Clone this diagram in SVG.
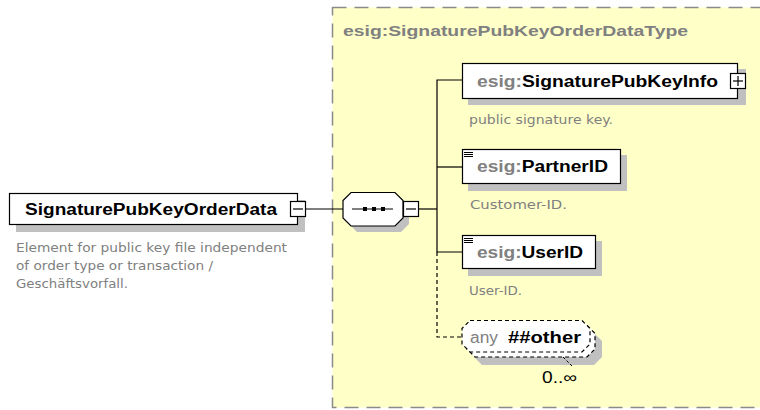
<svg xmlns="http://www.w3.org/2000/svg" width="760" height="410" viewBox="0 0 760 410">
<style>
.box{fill:#fff;stroke:#000;stroke-width:1.2}
.shadow{fill:#c0c0c0;stroke:none}
.conn{fill:none;stroke:#000;stroke-width:1.2}
.dconn{fill:none;stroke:#000;stroke-width:1.2;stroke-dasharray:4,3}
.name{font-family:"Liberation Sans",Arial,sans-serif;font-weight:bold;font-size:16px;fill:#000}
.ns{fill:#808080}
.desc{font-family:"DejaVu Sans",Verdana,sans-serif;font-size:12px;fill:#808080}
.btn{fill:#fff;stroke:#000;stroke-width:1.2}
</style>
<rect width="760" height="410" fill="#fff"/>
<g id="type-SignaturePubKeyOrderDataType">
<rect x="332.5" y="7.5" width="440" height="400" fill="#ffffc8" stroke="#8a8a8a" stroke-width="1.5" stroke-dasharray="14,8"/>
<text x="343" y="36" font-family="'Liberation Sans',Arial,sans-serif" font-weight="bold" font-size="15" fill="#808080" textLength="345" lengthAdjust="spacingAndGlyphs">esig:SignaturePubKeyOrderDataType</text>
</g>
<g id="connectors">
<line class="conn" x1="306" y1="209" x2="343" y2="209"/>
<line class="conn" x1="419" y1="209" x2="437" y2="209"/>
<polyline class="conn" points="462,80 437,80 437,252 462,252"/>
<line class="conn" x1="437" y1="167" x2="462" y2="167"/>
<polyline class="dconn" points="437,252 437,337 462,337"/>
</g>
<g id="root-SignaturePubKeyOrderData">
<rect class="shadow" x="16" y="200" width="289" height="32"/>
<rect class="box" x="9.5" y="193.5" width="288" height="31"/>
<text class="name" x="25" y="215" font-size="17" textLength="252" lengthAdjust="spacingAndGlyphs">SignaturePubKeyOrderData</text>
<rect class="btn" x="290.5" y="201.5" width="15" height="15"/>
<line class="conn" x1="293" y1="209" x2="303" y2="209"/>
<text class="desc" font-size="13"><tspan x="16" y="252" textLength="271" lengthAdjust="spacingAndGlyphs">Element for public key file independent</tspan><tspan x="16" y="270" textLength="197" lengthAdjust="spacingAndGlyphs">of order type or transaction /</tspan><tspan x="16" y="288" textLength="112" lengthAdjust="spacingAndGlyphs">Geschäftsvorfall.</tspan></text>
</g>
<g id="sequence">
<path class="shadow" d="M357,198 H401 L409,206 V224 L401,232 H357 L349,224 V206 Z"/>
<path class="box" d="M351,192.5 H395 L403,200.5 V218 L395,226 H351 L343,218 V200.5 Z"/>
<line class="conn" x1="352" y1="209" x2="393" y2="209"/>
<rect x="363" y="207" width="4" height="4" fill="#000"/>
<rect x="372" y="207" width="4" height="4" fill="#000"/>
<rect x="381" y="207" width="4" height="4" fill="#000"/>
<rect class="btn" x="403.5" y="201.5" width="15" height="15"/>
<line class="conn" x1="406" y1="209" x2="416" y2="209"/>
</g>
<g id="el-SignaturePubKeyInfo">
<rect class="shadow" x="468" y="69" width="278" height="36"/>
<rect class="box" x="462.5" y="63.5" width="275" height="35"/>
<text class="name" x="477" y="87" textLength="241" lengthAdjust="spacingAndGlyphs"><tspan class="ns">esig:</tspan>SignaturePubKeyInfo</text>
<rect class="btn" x="730.5" y="73.5" width="15" height="15"/>
<line class="conn" x1="733" y1="81" x2="743" y2="81"/>
<line class="conn" x1="738" y1="76" x2="738" y2="86"/>
<text class="desc" x="469" y="124" textLength="144" lengthAdjust="spacingAndGlyphs">public signature key.</text>
</g>
<g id="el-PartnerID">
<rect class="shadow" x="468" y="155" width="159" height="36"/>
<rect class="box" x="462.5" y="149.5" width="158" height="34"/>
<path d="M464,152.5 H473 M464,154.5 H473 M464,156.5 H473" stroke="#000" stroke-width="1"/>
<text class="name" x="477" y="172" textLength="131" lengthAdjust="spacingAndGlyphs"><tspan class="ns">esig:</tspan>PartnerID</text>
<text class="desc" x="470" y="209" textLength="97" lengthAdjust="spacingAndGlyphs">Customer-ID.</text>
</g>
<g id="el-UserID">
<rect class="shadow" x="468" y="241" width="134" height="35"/>
<rect class="box" x="462.5" y="235.5" width="133" height="33"/>
<path d="M464,238.5 H473 M464,240.5 H473 M464,242.5 H473" stroke="#000" stroke-width="1"/>
<text class="name" x="477" y="258" textLength="106" lengthAdjust="spacingAndGlyphs"><tspan class="ns">esig:</tspan>UserID</text>
<text class="desc" x="469" y="295" textLength="53" lengthAdjust="spacingAndGlyphs">User-ID.</text>
</g>
<g id="any-other">
<path class="shadow" d="M482,333 H594 L602,341 V357 L594,365 H482 L474,357 V341 Z"/>
<path d="M475,325.5 H587 L595,333.5 V349 L587,357 H475 L467,349 V333.5 Z" fill="#fff" stroke="#000" stroke-width="1.2" stroke-dasharray="4,3"/>
<path d="M470,320.5 H582 L590,328.5 V344 L582,352 H470 L462,344 V328.5 Z" fill="#fff" stroke="#000" stroke-width="1.2" stroke-dasharray="4,3"/>
<text x="470" y="343" font-family="'Liberation Sans',Arial,sans-serif" font-size="16" fill="#808080" textLength="28" lengthAdjust="spacingAndGlyphs">any</text>
<text class="name" x="508" y="343" textLength="73" lengthAdjust="spacingAndGlyphs">##other</text>
<line x1="563" y1="357" x2="572" y2="366" stroke="#000" stroke-width="1" stroke-dasharray="3,2"/>
<text x="542" y="383" font-family="'Liberation Sans',Arial,sans-serif" font-size="16" fill="#000" textLength="35" lengthAdjust="spacingAndGlyphs">0..∞</text>
</g>
</svg>
